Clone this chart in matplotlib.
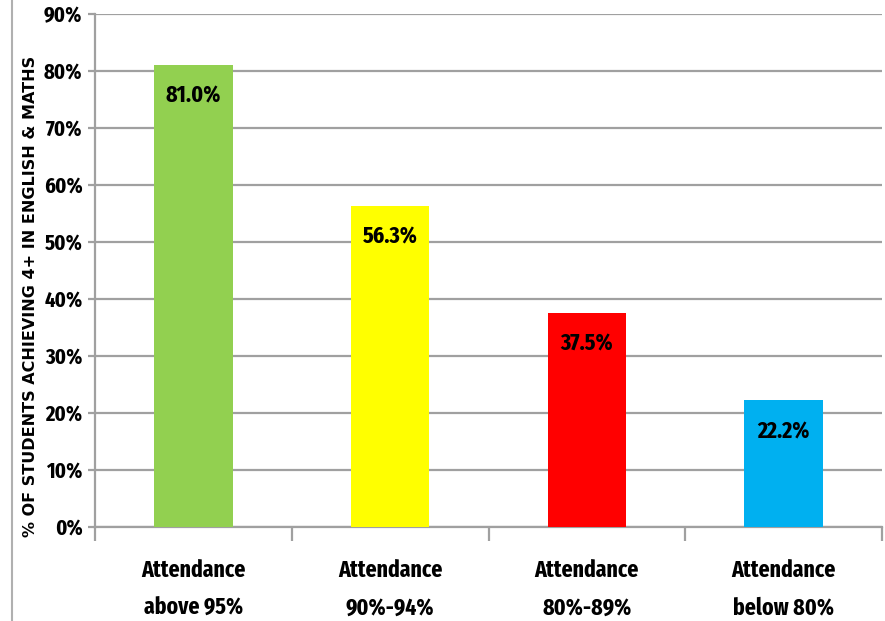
import matplotlib.pyplot as plt
from matplotlib.lines import Line2D
from matplotlib.ticker import FuncFormatter

categories = ["Attendance\nabove 95%", "Attendance\n90%-94%",
              "Attendance\n80%-89%", "Attendance\nbelow 80%"]
values = [81.0, 56.3, 37.5, 22.2]
colors = ["#92D050", "#FFFF00", "#FF0000", "#00B0F0"]
yticks = [0, 10, 20, 30, 40, 50, 60, 70, 80, 90]

narrow = ["Fira Sans Extra Condensed", "DejaVu Sans"]
grey = "#A0A0A0"

fig = plt.figure(figsize=(8.85, 6.21), dpi=100)
W, H = 885, 621
ax = fig.add_axes([95 / W, 1 - 527 / H, (882 - 95) / W, (527 - 14) / H])

x = list(range(len(values)))
ax.bar(x, values, width=0.40, color=colors, zorder=3)
ax.set_xlim(-0.5, len(values) - 0.5)
ax.set_ylim(0, 90)

for xi, v in zip(x, values):
    ax.annotate(f"{v:.1f}%", (xi, v), xytext=(0, -31), textcoords="offset pixels",
                ha="center", va="center", fontsize=17, fontweight="bold",
                family=narrow, zorder=4)

ax.set_yticks(yticks)
ax.yaxis.set_major_formatter(FuncFormatter(lambda v, p: f"{v:.0f}%"))
ax.grid(axis="y", color=grey, linewidth=1.6, zorder=0)
for lbl in ax.get_yticklabels():
    lbl.set_family(narrow)
    lbl.set_fontweight("bold")
    lbl.set_fontsize(16)
ax.tick_params(axis="y", length=5, color=grey, width=1.6, pad=4)

# category boundary ticks
ax.set_xticks([-0.5, 0.5, 1.5, 2.5, 3.5])
ax.set_xticklabels([])
ax.tick_params(axis="x", length=10, color=grey, width=1.6)
ax.set_xticks(x, minor=True)
ax.set_xticklabels(categories, minor=True)
ax.tick_params(axis="x", which="minor", length=0, pad=23)
for lbl in ax.get_xticklabels(minor=True):
    lbl.set_family(narrow)
    lbl.set_fontweight("bold")
    lbl.set_fontsize(17)
    lbl.set_linespacing(1.8)

for s in ["top", "right"]:
    ax.spines[s].set_visible(False)
for s in ["left", "bottom"]:
    ax.spines[s].set_color(grey)
    ax.spines[s].set_linewidth(1.6)

ax.set_ylabel("% OF STUDENTS ACHIEVING 4+ IN ENGLISH & MATHS",
              fontsize=11.5, fontweight="bold", family="DejaVu Sans")
ax.yaxis.set_label_coords(-0.072, 0.45)

fig.add_artist(Line2D([12 / W, 12 / W], [0, 1], color="#B0B0B0", linewidth=1.5,
                      transform=fig.transFigure))

fig.savefig("out.png", dpi=100)
